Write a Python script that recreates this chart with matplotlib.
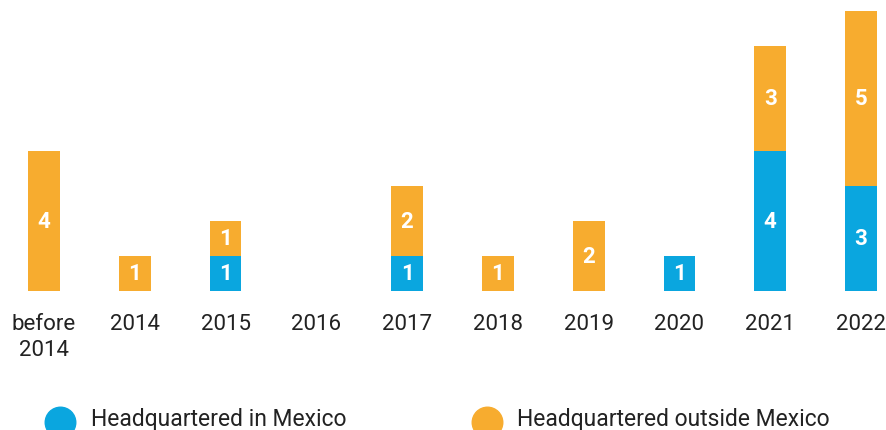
import matplotlib
matplotlib.use("Agg")
import matplotlib.pyplot as plt
from matplotlib.lines import Line2D

plt.rcParams['font.family'] = ['Roboto', 'DejaVu Sans']

categories = ["before\n2014", "2014", "2015", "2016", "2017", "2018", "2019", "2020", "2021", "2022"]
in_mexico = [0, 0, 1, 0, 1, 0, 0, 1, 4, 3]
outside_mexico = [4, 1, 1, 0, 2, 1, 2, 0, 3, 5]
series_names = ["Headquartered in Mexico", "Headquartered outside Mexico"]

BLUE = "#0AA6DF"
ORANGE = "#F7AC2F"
W, H = 887, 431

fig = plt.figure(figsize=(W / 100, H / 100), dpi=100)
ax = fig.add_axes([0, (H - 292) / H, 1, (292 - 12) / H])

x = list(range(len(categories)))
ax.bar(x, in_mexico, width=0.35, color=BLUE)
ax.bar(x, outside_mexico, width=0.35, bottom=in_mexico, color=ORANGE)

for i in x:
    if in_mexico[i]:
        ax.text(i, in_mexico[i] / 2, str(in_mexico[i]), ha="center", va="center",
                color="white", fontsize=16, fontweight="bold")
    if outside_mexico[i]:
        ax.text(i, in_mexico[i] + outside_mexico[i] / 2, str(outside_mexico[i]),
                ha="center", va="center", color="white", fontsize=16, fontweight="bold")

ax.set_xlim(-44 / 90.78, 9 + 26 / 90.78)
ax.set_ylim(0, 8)
ax.set_xticks(x)
ax.set_xticklabels(categories, fontsize=16, color="#222222", linespacing=1.3)
ax.tick_params(axis="x", length=0, pad=16)
ax.set_yticks([])
for s in ax.spines.values():
    s.set_visible(False)

# legend drawn in figure pixels
legend_items = [(60, 91, BLUE, series_names[0]), (487, 517, ORANGE, series_names[1])]
for cx, tx, col, name in legend_items:
    fig.add_artist(Line2D([cx / W], [(H - 423) / H], marker="o", markersize=22,
                          color=col, linestyle="none", transform=fig.transFigure))
    fig.text(tx / W, (H - 420) / H, name, fontsize=16.5, color="#222222",
             ha="left", va="center")

fig.savefig("out.png", dpi=100)
